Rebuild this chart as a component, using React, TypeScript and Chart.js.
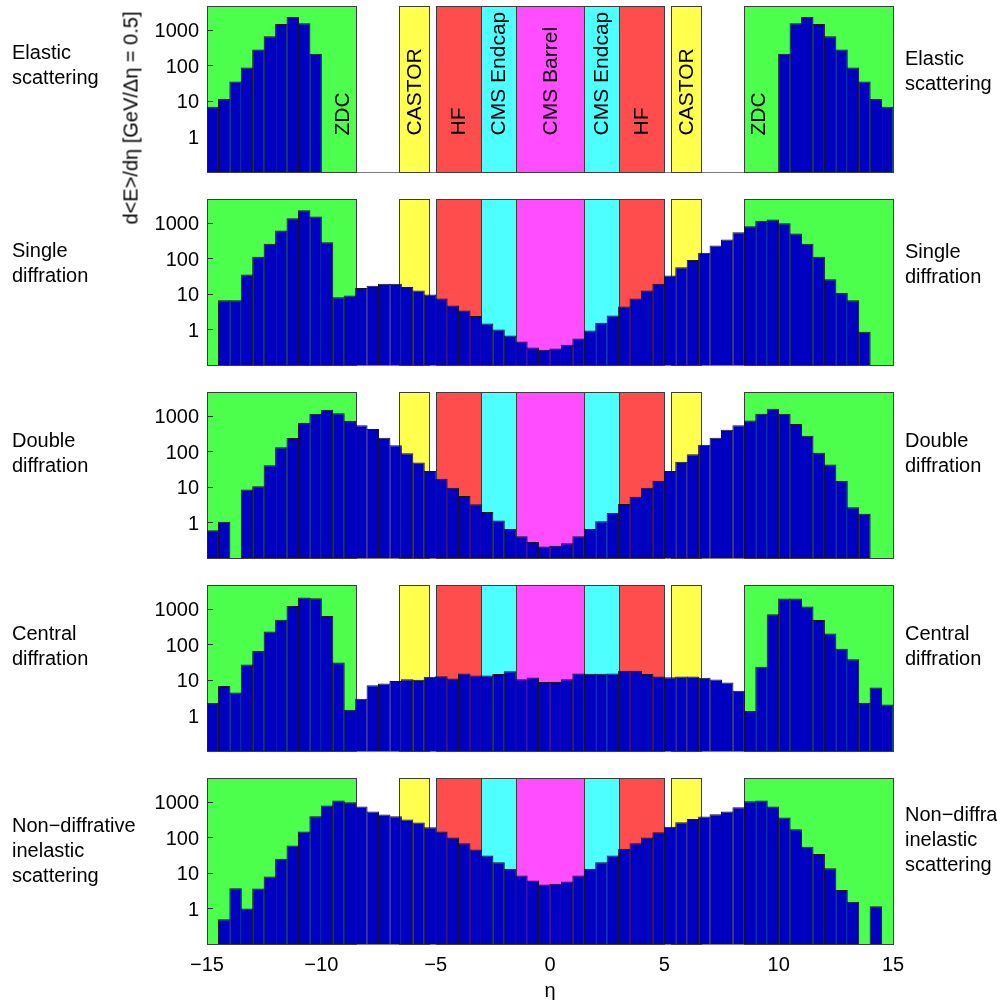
import React, { useEffect, useRef } from 'react';
import { Chart, registerables } from 'chart.js';

Chart.register(...registerables);

// ---------- data ----------
const etaCenters: number[] = [
  -14.75, -14.25, -13.75, -13.25, -12.75, -12.25, -11.75, -11.25, -10.75, -10.25,
  -9.75, -9.25, -8.75, -8.25, -7.75, -7.25, -6.75, -6.25, -5.75, -5.25,
  -4.75, -4.25, -3.75, -3.25, -2.75, -2.25, -1.75, -1.25, -0.75, -0.25,
  0.25, 0.75, 1.25, 1.75, 2.25, 2.75, 3.25, 3.75, 4.25, 4.75,
  5.25, 5.75, 6.25, 6.75, 7.25, 7.75, 8.25, 8.75, 9.25, 9.75,
  10.25, 10.75, 11.25, 11.75, 12.25, 12.75, 13.25, 13.75, 14.25, 14.75,
];

const elastic: (number | null)[] = [
  6.9, 11.3, 35, 87, 281, 667, 1470, 2310, 1540, 213,
  null, null, null, null, null, null, null, null, null, null,
  null, null, null, null, null, null, null, null, null, null,
  null, null, null, null, null, null, null, null, null, null,
  null, null, null, null, null, null, null, null, null, null,
  213, 1540, 2310, 1470, 667, 281, 87, 35, 11.3, 6.9,
];

const singleDiff: (number | null)[] = [
  null, 6.6, 6.6, 35, 111, 258, 610, 1350, 2270, 1500,
  287, 8.1, 9.0, 14.7, 17.1, 19.5, 19.5, 15.7, 12.4, 9.6,
  7.4, 4.7, 3.4, 2.4, 1.47, 1.0, 0.68, 0.46, 0.31, 0.27,
  0.29, 0.37, 0.56, 0.94, 1.54, 2.47, 4.4, 7.4, 12.4, 19.5,
  33, 56, 90, 144, 231, 341, 547, 807, 1140, 1240,
  977, 501, 258, 111, 26, 10.7, 6.6, 0.86, null, null,
];

const doubleDiff: (number | null)[] = [
  0.6, 1.04, null, 8.5, 10.4, 41, 131, 237, 633, 1142,
  1486, 1194, 722, 544, 427, 242, 150, 89, 49, 28,
  17, 9.5, 5.6, 3.26, 1.97, 1.14, 0.65, 0.41, 0.28, 0.21,
  0.22, 0.26, 0.41, 0.66, 1.09, 1.84, 3.33, 5.3, 9.5, 15,
  28, 51, 83, 153, 242, 409, 544, 738, 1142, 1585,
  1142, 593, 276, 92, 43, 14.7, 2.67, 1.77, null, null,
];

const centralDiff: (number | null)[] = [
  2.24, 6.8, 4.4, 27, 65, 232, 497, 1213, 2094, 2005,
  631, 31, 1.45, 2.97, 7.1, 7.9, 9.4, 10.5, 10.1, 12.2,
  12.8, 11, 15.2, 13.4, 13.4, 14.6, 17.7, 10.5, 11.7, 8.8,
  8.8, 10.5, 15.2, 14.9, 14.9, 15.2, 18.1, 18.1, 14.6, 12.5,
  12.0, 12.5, 12.5, 11.5, 10.3, 8.5, 5.0, 1.33, 23.5, 704,
  1960, 1960, 1162, 486, 203, 76, 38, 2.24, 6.1, 2.05,
];

const nonDiff: (number | null)[] = [
  null, 0.5, 3.7, 1.0, 3.65, 7.9, 25, 59, 146, 395,
  787, 1088, 977, 738, 534, 440, 395, 318, 262, 194,
  146, 99, 69, 46, 31, 20, 13, 8.5, 6.1, 4.7,
  5.0, 5.7, 8.5, 13, 20, 31, 47, 69, 99, 140,
  198, 267, 332, 386, 449, 534, 707, 1042, 1088, 738,
  362, 170, 55, 34, 13.6, 3.3, 1.54, null, 1.16, null,
];

const processNames: string[][] = [
  ['Elastic', 'scattering'],
  ['Single', 'diffration'],
  ['Double', 'diffration'],
  ['Central', 'diffration'],
  ['Non\u2212diffrative', 'inelastic', 'scattering'],
];

const regionNames = ['ZDC', 'CASTOR', 'HF', 'CMS Endcap', 'CMS Barrel', 'CMS Endcap', 'HF', 'CASTOR', 'ZDC'];
const regionStart = [-15, -6.6, -5, -3, -1.5, 1.5, 3, 5.3, 8.5];
const regionEnd = [-8.5, -5.3, -3, -1.5, 1.5, 3, 5, 6.6, 15];
const regionLabelEta = [-9.1, -5.95, -4, -2.25, 0, 2.25, 4, 5.95, 9.1];
const regionColors = ['#4dff4d', '#ffff4d', '#ff4d4d', '#4dffff', '#ff4dff', '#4dffff', '#ff4d4d', '#ffff4d', '#4dff4d'];

const yTicks = [1, 10, 100, 1000];
const yTickLabels = ['1', '10', '100', '1000'];
const xTicks = [-15, -10, -5, 0, 5, 10, 15];
const xTickLabels = ['\u221215', '\u221210', '\u22125', '0', '5', '10', '15'];

const yTitle = 'd<E>/d\u03b7 [GeV/\u0394\u03b7 = 0.5]';
const xTitle = '\u03b7';

// ---------- layout ----------
const W = 997;
const H = 1000;
const PLOT_LEFT = 207;
const PLOT_RIGHT = 893;
const PANEL_TOPS = [6, 199, 392, 585, 778];
const PANEL_H = 166;
const LEFT_LABEL_OFF = [46, 51, 48, 48, 47];
const RIGHT_LABEL_OFF = [52, 52, 48, 48, 36];
const FONT = "'Liberation Sans', Arial, Helvetica, sans-serif";

const allSeries = [elastic, singleDiff, doubleDiff, centralDiff, nonDiff];

const regionPlugin = {
  id: 'regions',
  beforeDatasetsDraw(chart: any) {
    const { ctx, chartArea, scales } = chart;
    const x = scales.x;
    const y = scales.y;
    ctx.save();
    for (let i = 0; i < regionStart.length; i++) {
      const x0 = Math.round(x.getPixelForValue(regionStart[i]));
      const x1 = Math.round(x.getPixelForValue(regionEnd[i]));
      const t = Math.round(chartArea.top);
      const b = Math.round(chartArea.bottom);
      ctx.fillStyle = regionColors[i];
      ctx.fillRect(x0, t, x1 - x0, b - t);
      ctx.strokeStyle = '#3c3c3c';
      ctx.lineWidth = 1;
      ctx.strokeRect(x0 + 0.5, t + 0.5, x1 - x0, b - t);
    }
    ctx.strokeStyle = '#333';
    ctx.lineWidth = 1;
    for (const v of yTicks) {
      const py = Math.round(y.getPixelForValue(v)) + 0.5;
      ctx.beginPath();
      ctx.moveTo(chartArea.left, py);
      ctx.lineTo(chartArea.left + 6, py);
      ctx.stroke();
    }
    ctx.restore();
  },
  afterDatasetsDraw(chart: any, _args: any, opts: any) {
    if (!opts || !opts.labels) return;
    const { ctx, scales } = chart;
    const x = scales.x;
    const y = scales.y;
    ctx.save();
    ctx.fillStyle = '#000';
    ctx.font = `21px ${FONT}`;
    ctx.textAlign = 'left';
    ctx.textBaseline = 'middle';
    const baseY = y.getPixelForValue(1) - 1;
    for (let i = 0; i < regionNames.length; i++) {
      const px = x.getPixelForValue(regionLabelEta[i]);
      ctx.save();
      ctx.translate(px, baseY);
      ctx.rotate(-Math.PI / 2);
      ctx.fillText(regionNames[i], 0, 1);
      ctx.restore();
    }
    ctx.restore();
  },
};

function makeConfig(panel: number): any {
  const values = allSeries[panel];
  const isLast = panel === allSeries.length - 1;
  const top = PANEL_TOPS[panel];
  const xHeight = isLast ? 56 : 0;
  const points = etaCenters
    .map((x, i) => ({ x, y: values[i] }))
    .filter((p) => p.y !== null);
  return {
    type: 'bar',
    data: {
      datasets: [
        {
          data: points,
          backgroundColor: '#0000c2',
          borderColor: '#151515',
          borderWidth: 1,
          barPercentage: 1.09,
          categoryPercentage: 1,
        },
      ],
    },
    options: {
      responsive: false,
      animation: false,
      devicePixelRatio: 1,
      events: [],
      layout: {
        padding: {
          left: 0,
          right: W - PLOT_RIGHT,
          top: top,
          bottom: H - (top + PANEL_H) - xHeight,
        },
      },
      plugins: {
        legend: { display: false },
        tooltip: { enabled: false },
        regions: { labels: panel === 0 },
      },
      scales: {
        x: {
          type: 'linear',
          offset: false,
          min: -15,
          max: 15,
          grid: { display: false, drawTicks: false, offset: false },
          border: { display: true, color: '#7a7a7a', width: 1 },
          ticks: {
            display: isLast,
            padding: 9,
            maxRotation: 0,
            autoSkip: false,
            color: '#000',
            font: { size: 20, family: FONT },
            callback: (_v: any, i: number) => xTickLabels[i],
          },
          afterBuildTicks: (s: any) => {
            s.ticks = xTicks.map((v) => ({ value: v }));
          },
          afterFit: (s: any) => {
            s.height = xHeight;
            s.paddingLeft = 0;
            s.paddingRight = 0;
            s.paddingTop = 0;
            s.paddingBottom = 0;
          },
        },
        y: {
          type: 'logarithmic',
          min: 0.1,
          max: 4700,
          bounds: 'data',
          grid: { display: false, drawTicks: false },
          border: { display: true, color: '#3c3c3c', width: 1 },
          ticks: {
            padding: 8,
            labelOffset: 2,
            color: '#000',
            font: { size: 20, family: FONT },
            callback: (_v: any, i: number) => yTickLabels[i],
          },
          afterBuildTicks: (s: any) => {
            s.ticks = yTicks.map((v) => ({ value: v }));
          },
          afterFit: (s: any) => {
            s.width = PLOT_LEFT;
            s.paddingTop = 0;
            s.paddingBottom = 0;
            s.paddingLeft = 0;
            s.paddingRight = 0;
          },
        },
      },
    },
    plugins: [regionPlugin],
  };
}

export default function App() {
  const refs = useRef<(HTMLCanvasElement | null)[]>([]);

  useEffect(() => {
    const charts: Chart[] = [];
    for (let i = 0; i < allSeries.length; i++) {
      const c = refs.current[i];
      if (c) charts.push(new Chart(c, makeConfig(i)));
    }
    return () => {
      charts.forEach((ch) => ch.destroy());
    };
  }, []);

  const textStyle: React.CSSProperties = {
    position: 'absolute',
    fontFamily: FONT,
    fontSize: 20,
    lineHeight: '25px',
    color: '#000',
    whiteSpace: 'nowrap',
  };

  return (
    <div
      style={{
        position: 'absolute',
        left: 0,
        top: 0,
        width: W,
        height: H,
        overflow: 'hidden',
        background: '#fff',
      }}
    >
      {allSeries.map((_, i) => (
        <canvas
          key={i}
          ref={(el) => {
            refs.current[i] = el;
          }}
          width={W}
          height={H}
          style={{ position: 'absolute', left: 0, top: 0, width: W, height: H }}
        />
      ))}
      {processNames.map((lines, i) => (
        <div key={'l' + i} style={{ ...textStyle, left: 12, top: PANEL_TOPS[i] + LEFT_LABEL_OFF[i] - 12.5 }}>
          {lines.map((t, j) => (
            <div key={j}>{t}</div>
          ))}
        </div>
      ))}
      {processNames.map((lines, i) => (
        <div key={'r' + i} style={{ ...textStyle, left: 905, top: PANEL_TOPS[i] + RIGHT_LABEL_OFF[i] - 12.5 }}>
          {lines.map((t, j) => (
            <div key={j}>{t}</div>
          ))}
        </div>
      ))}
      <div
        style={{
          ...textStyle,
          left: 131,
          top: 118,
          transform: 'translate(-50%, -50%) rotate(-90deg)',
        }}
      >
        {yTitle}
      </div>
      <div style={{ ...textStyle, left: 550, top: 990, transform: 'translate(-50%, -50%)' }}>{xTitle}</div>
    </div>
  );
}
